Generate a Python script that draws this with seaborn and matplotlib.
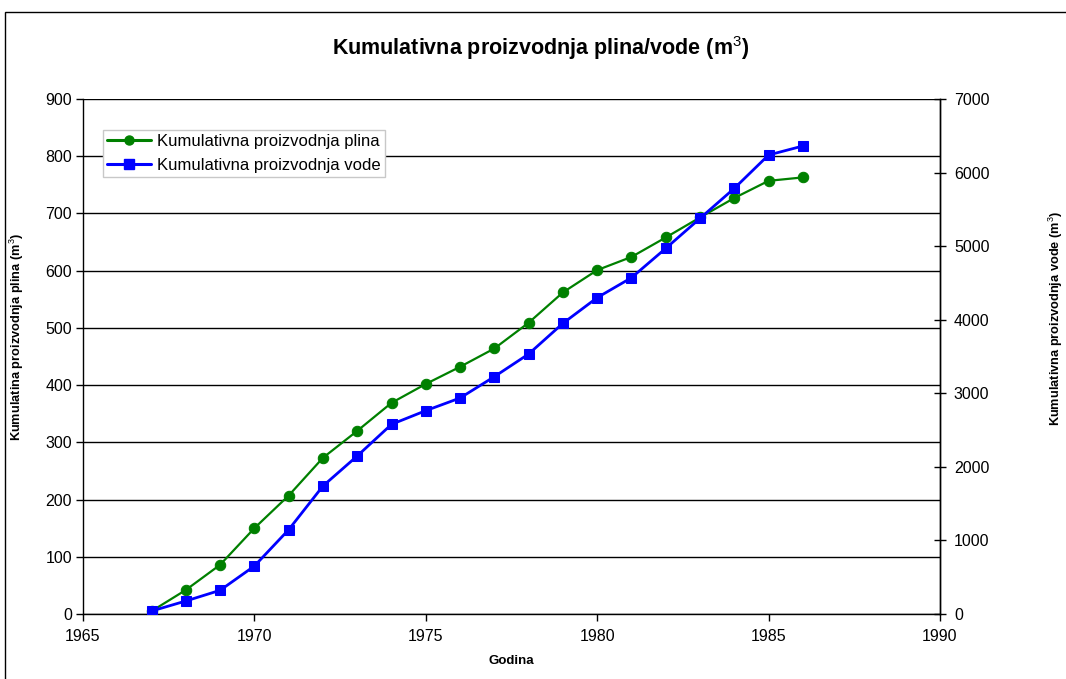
import numpy as np
import pandas as pd
import matplotlib
matplotlib.use("Agg")
import matplotlib.pyplot as plt
import seaborn as sns
from matplotlib.patches import Rectangle
from matplotlib.lines import Line2D

years = [1967, 1968, 1969, 1970, 1971, 1972, 1973, 1974, 1975, 1976,
         1977, 1978, 1979, 1980, 1981, 1982, 1983, 1984, 1985, 1986]
gas = [5, 42, 86, 150, 207, 273, 320, 369, 402, 432,
       464, 509, 562, 601, 624, 658, 693, 727, 757, 763]
water = [40, 177, 322, 652, 1146, 1740, 2148, 2578, 2764, 2936,
         3226, 3534, 3951, 4300, 4571, 4970, 5378, 5786, 6239, 6361]

left_ticks = [0, 100, 200, 300, 400, 500, 600, 700, 800, 900]
right_ticks = [0, 1000, 2000, 3000, 4000, 5000, 6000, 7000]
x_ticks = [1965, 1970, 1975, 1980, 1985, 1990]

title = "Kumulativna proizvodnja plina/vode (m$^{3}$)"
gas_label = "Kumulativna proizvodnja plina"
water_label = "Kumulativna proizvodnja vode"
ylabel_left = "Kumulatina proizvodnja plina (m$^{3}$)"
ylabel_right = "Kumulativna proizvodnja vode (m$^{3}$)"
xlabel = "Godina"

sns.set_theme(style="white")
plt.rcParams['font.family'] = ['Liberation Sans', 'DejaVu Sans']
plt.rcParams['mathtext.fontset'] = 'custom'
plt.rcParams['mathtext.rm'] = 'Liberation Sans'
plt.rcParams['mathtext.bf'] = 'Liberation Sans:bold'
for k in ('text.color', 'axes.labelcolor', 'xtick.color', 'ytick.color'):
    plt.rcParams[k] = 'black'

df = pd.DataFrame({"year": years, "gas": gas, "water": water})

W, H = 1066, 679
fig = plt.figure(figsize=(W / 100, H / 100), dpi=100)
L, R, T, B = 83, 940, 99, 614
ax = fig.add_axes([L / W, 1 - B / H, (R - L) / W, (B - T) / H])
ax2 = ax.twinx()

GREEN = "#008000"
BLUE = "#0000FF"

sns.lineplot(data=df, x="year", y="gas", ax=ax, color=GREEN, marker="o",
             markersize=7.5, linewidth=1.6, markeredgecolor=GREEN, zorder=3)
sns.lineplot(data=df, x="year", y="water", ax=ax2, color=BLUE, marker="s",
             markersize=7, linewidth=2.0, markeredgecolor=BLUE, zorder=4)

ax.set_xlim(1965, 1990)
ax.set_ylim(0, 900)
ax2.set_ylim(0, 7000)
ax.set_xticks(x_ticks)
ax.set_yticks(left_ticks)
ax2.set_yticks(right_ticks)

ax.yaxis.grid(True, color="black", linewidth=1.0)
ax.xaxis.grid(False)
ax2.grid(False)
ax.set_axisbelow(True)

for a in (ax, ax2):
    for s in a.spines.values():
        s.set_color("black")
        s.set_linewidth(1.0)
    a.spines["top"].set_visible(False)
ax2.spines["left"].set_visible(False)
ax2.spines["bottom"].set_visible(False)

TS = 11.5
ax.tick_params(axis="y", direction="out", length=5, width=1, color="black",
               labelsize=TS, left=True, pad=3)
ax.tick_params(axis="x", direction="out", length=5, width=1, color="black",
               labelsize=TS, bottom=True, pad=6)
ax2.tick_params(axis="y", direction="inout", length=8, width=1, color="black",
                labelsize=TS, right=True, pad=6)

ax.set_xlabel(xlabel, fontsize=9.5, fontweight="bold", labelpad=8)
ax.set_ylabel(ylabel_left, fontsize=9.2, fontweight="bold", va="center")
ax2.set_ylabel(ylabel_right, fontsize=9.2, fontweight="bold", va="center")
ax.yaxis.set_label_coords((17 - L) / (R - L), (B - 337) / (B - T))
ax2.yaxis.set_label_coords((1056 - L) / (R - L), (B - 318) / (B - T))

handles = [
    Line2D([], [], color=GREEN, marker="o", markersize=6.5, linewidth=2.2),
    Line2D([], [], color=BLUE, marker="s", markersize=6.5, linewidth=2.2),
]
leg = ax2.legend(handles, [gas_label, water_label], loc="upper left",
                 bbox_to_anchor=((103 - L) / (R - L), (B - 130) / (B - T)),
                 fontsize=12, frameon=True, fancybox=False, framealpha=1,
                 edgecolor="#c8c8c8", handlelength=2.6, handletextpad=0.4,
                 borderpad=0.25, labelspacing=0.55, borderaxespad=0)
leg.get_frame().set_linewidth(1.0)
leg.set_zorder(10)

fig.text(541 / W, 1 - 48 / H, title, ha="center", va="center",
         fontsize=15.5, fontweight="bold")

fig.add_artist(Rectangle((5 / W, -0.05), 1.2, 1 - 12 / H + 0.05,
                         transform=fig.transFigure, fill=False,
                         edgecolor="black", linewidth=1.0, clip_on=False))

fig.savefig("out.png", dpi=100)
